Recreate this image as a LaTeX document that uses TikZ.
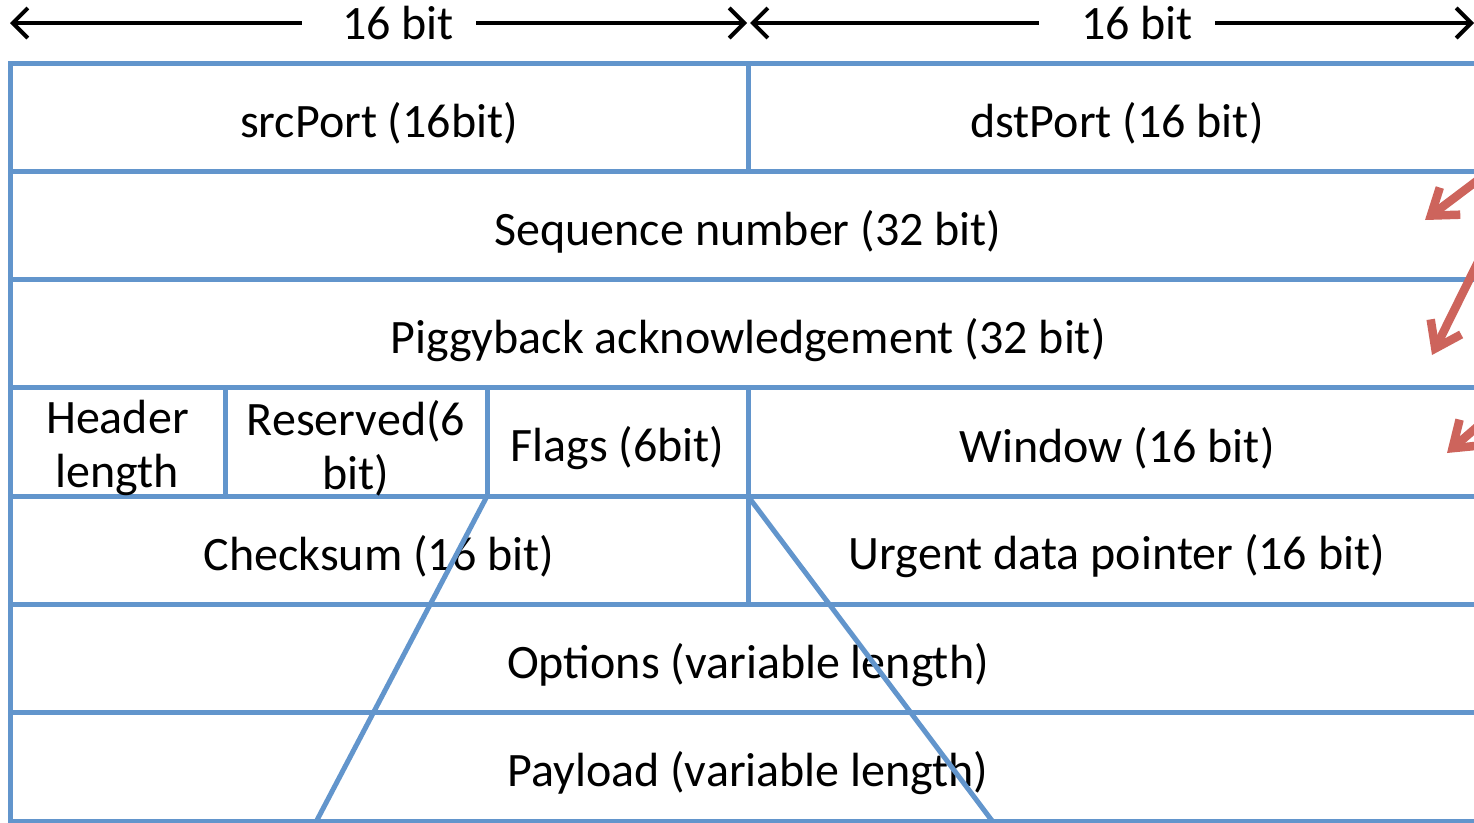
\documentclass[tikz,border=0pt]{standalone}
\usepackage{fontspec}
\setmainfont{Carlito}
\usetikzlibrary{arrows.meta}
\definecolor{gridblue}{RGB}{98,149,204}
\definecolor{markred}{RGB}{205,100,92}
\begin{document}
\begin{tikzpicture}[x=1pt,y=-1pt,
  cell/.style={draw=gridblue, line width=5pt, rectangle, minimum height=108.3pt,
    inner sep=0pt, outer sep=0pt, anchor=north west, align=center,
    font=\fontsize{48}{54}\selectfont},
  celltext/.style={inner sep=0pt, align=center, font=\fontsize{48}{54}\selectfont},
  label/.style={font=\fontsize{48}{54}\selectfont, inner sep=0pt},
  span/.style={line width=4pt, -{Straight Barb[length=15pt,width=30pt,line width=4pt]}},
  hint/.style={draw=markred, line width=8.5pt, line cap=round,
    -{Straight Barb[length=24pt,width=34pt,line width=8.5pt]}},
  slant/.style={draw=gridblue, line width=5pt}]
\useasboundingbox (0,0) rectangle (1474,822);
\clip (0,0) rectangle (1474,822);
\fill[white] (0,0) rectangle (1474,822);

% header word layout: the cells
\node[cell, minimum width=738pt] (src) at (10,63) {};
\node[cell, minimum width=738pt] (dst) at (748,63) {};
\node[cell, minimum width=1476pt] (seq) at (10,171.3) {};
\node[cell, minimum width=1476pt] (ack) at (10,279.6) {};
\node[cell, minimum width=215pt] (hlen) at (10,387.9) {};
\node[cell, minimum width=262pt] (res) at (225,387.9) {};
\node[cell, minimum width=261pt] (flags) at (487,387.9) {};
\node[cell, minimum width=738pt] (win) at (748,387.9) {};
\node[cell, minimum width=738pt] (chk) at (10,496.2) {};
\node[cell, minimum width=738pt] (urg) at (748,496.2) {};
\node[cell, minimum width=1476pt] (opt) at (10,604.5) {};
\node[cell, minimum width=1476pt] (pay) at (10,712.8) {};

% field names
\node[celltext] (tsrc) at ([yshift=-6pt]src.center) {srcPort (16bit)};
\node[celltext] (tdst) at ([yshift=-6pt]dst.center) {dstPort (16 bit)};
\node[celltext] (tseq) at ([yshift=-6pt]seq.center) {Sequence number (32 bit)};
\node[celltext] (tack) at ([yshift=-6pt]ack.center) {Piggyback acknowledgement (32 bit)};
\node[celltext] (thlen) at ([yshift=-6pt]hlen.center) {Header\\length};
\node[celltext] (tres) at ([yshift=-6pt]res.center) {Reserved(6\\bit)};
\node[celltext] (tflags) at ([yshift=-6pt]flags.center) {Flags (6bit)};
\node[celltext] (twin) at ([yshift=-6pt]win.center) {Window (16 bit)};
\node[celltext] (tchk) at ([yshift=-6pt]chk.center) {Checksum (16 bit)};
\node[celltext] (turg) at ([yshift=-6pt]urg.center) {Urgent data pointer (16 bit)};
\node[celltext] (topt) at ([yshift=-6pt]opt.center) {Options (variable length)};
\node[celltext] (tpay) at ([yshift=-6pt]pay.center) {Payload (variable length)};

% zoom lines fanning out from the flags field
\coordinate (fanL) at (316,822);
\coordinate (fanR) at (993,822);
\draw[slant] (flags.south west) -- (fanL);
\draw[slant] (flags.south east) -- (fanR);

% width markers above the header
\node[label] (w1) at (398,23) {16 bit};
\node[label] (w2) at (1137,23) {16 bit};
\coordinate (w1l) at (10,23);
\coordinate (w1r) at (747,23);
\coordinate (w2l) at (750,23);
\coordinate (w2r) at (1474,23);
\draw[span] ([xshift=-40pt]w1.west) -- (w1l);
\draw[span] ([xshift=22pt]w1.east) -- (w1r);
\draw[span] ([xshift=-42pt]w2.west) -- (w2l);
\draw[span] ([xshift=22pt]w2.east) -- (w2r);

% red pointers at the right edge
\coordinate (h1a) at (1482,177);
\coordinate (h1b) at (1425,220);
\coordinate (h2a) at (1480,258);
\coordinate (h2b) at (1432,355);
\coordinate (h3a) at (1492,414);
\coordinate (h3b) at (1447,453);
\draw[hint] (h1a) -- (h1b);
\draw[hint] (h2a) -- (h2b);
\draw[hint] (h3a) -- (h3b);
\end{tikzpicture}
\end{document}
